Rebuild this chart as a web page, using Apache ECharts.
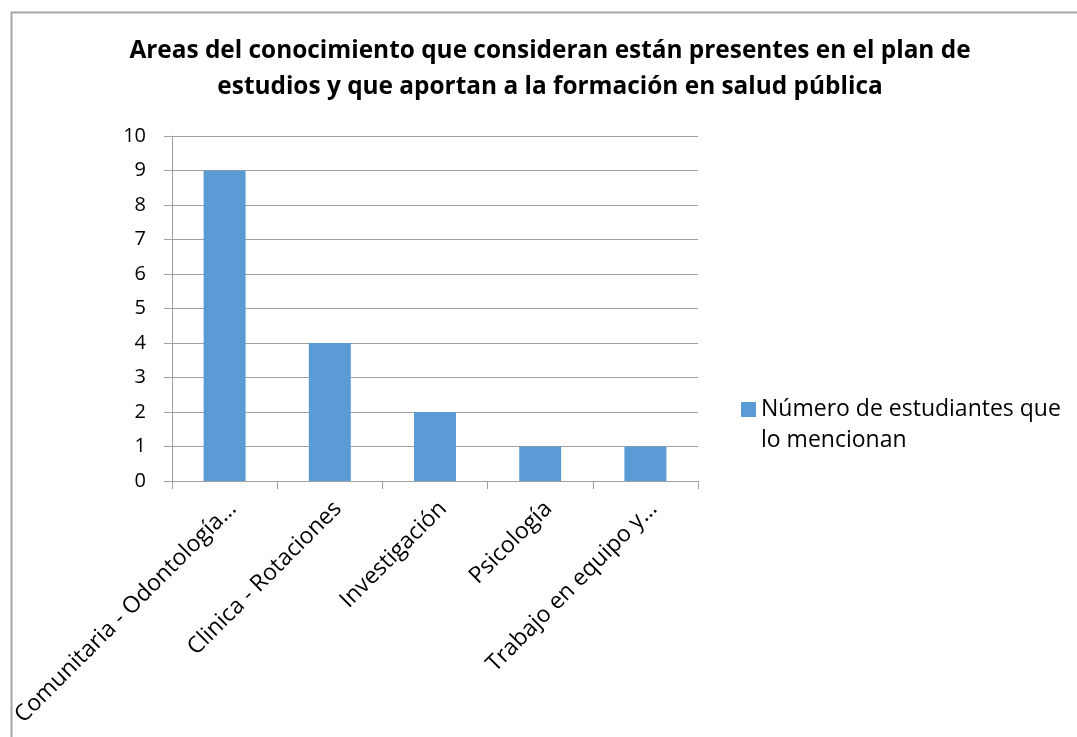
<!DOCTYPE html>
<html><head><meta charset="utf-8">
<script src="https://cdn.jsdelivr.net/npm/echarts@6/dist/echarts.min.js"></script>
<style>
html,body{margin:0;padding:0;background:#fff;}
#c{width:1077px;height:737px;}
</style></head>
<body><div id="c"></div>
<script>
const categories = ["Comunitaria - Odontología…", "Clinica - Rotaciones", "Investigación", "Psicología", "Trabajo en equipo y…"];
const values = [9, 4, 2, 1, 1];
const seriesName = "Número de estudiantes que\nlo mencionan";
const titleText = "Areas del conocimiento que consideran están presentes en el plan de\nestudios y que aportan a la formación en salud pública";

const font = "'Open Sans', sans-serif";
const chart = echarts.init(document.getElementById('c'), null, {renderer: 'canvas'});
chart.setOption({
  backgroundColor: '#fff',
  animation: false,
  graphic: [{
    type: 'rect', left: 9, top: 10, silent: true, z: -1,
    shape: {width: 1200, height: 800},
    style: {fill: 'none', stroke: '#a6a6a6', lineWidth: 2}
  }],
  title: {
    text: titleText,
    left: 550, top: 33, textAlign: 'center', padding: 0,
    textStyle: {fontFamily: font, fontWeight: 'bold', fontSize: 24.4, lineHeight: 36, color: '#000'}
  },
  legend: {
    left: 741, top: 394, orient: 'vertical', padding: 0,
    itemWidth: 15, itemHeight: 46, itemGap: 8,
    icon: 'path://M0,0h15v15h-15z M14.99,45.99h0.01v0.01h-0.01z',
    textStyle: {fontFamily: font, fontSize: 23, lineHeight: 31, color: '#000'},
    data: [seriesName]
  },
  grid: {left: 172, right: 379, top: 136, bottom: 256, containLabel: false},
  xAxis: {
    type: 'category', data: categories,
    axisLine: {lineStyle: {color: '#a0a0a0', width: 1}},
    axisTick: {show: true, length: 8, lineStyle: {color: '#a0a0a0'}},
    axisLabel: {rotate: 45, interval: 0, margin: 16, verticalAlign: 'top', fontFamily: font, fontSize: 23, color: '#000'}
  },
  yAxis: {
    type: 'value', min: 0, max: 10, interval: 1,
    axisLine: {show: true, lineStyle: {color: '#a0a0a0'}},
    axisTick: {show: true, length: 8, lineStyle: {color: '#a0a0a0'}},
    splitLine: {lineStyle: {color: '#a0a0a0'}},
    axisLabel: {margin: 26, fontFamily: font, fontSize: 20, color: '#000'}
  },
  series: [{
    name: seriesName, type: 'bar', data: values,
    barWidth: 42,
    itemStyle: {color: '#5b9bd5'}
  }]
});
</script></body></html>
